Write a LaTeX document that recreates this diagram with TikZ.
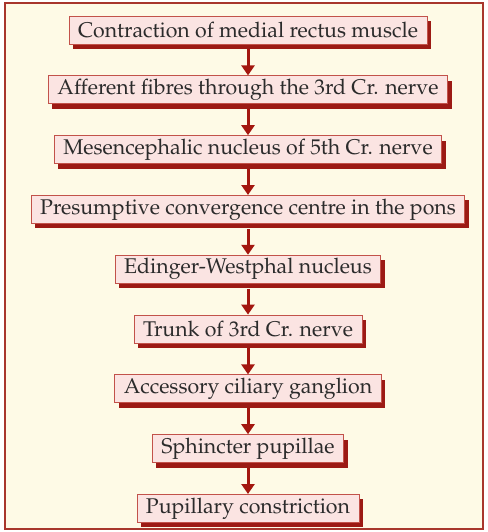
\documentclass[tikz,border=0pt]{standalone}
\usepackage[T1]{fontenc}
\usepackage{mathpazo}
\usepackage{xcolor}
\definecolor{paper}{HTML}{FEFAE6}
\definecolor{frameRed}{HTML}{A8362C}
\definecolor{boxPink}{HTML}{FBE4E2}
\definecolor{boxEdge}{HTML}{C2524A}
\definecolor{shadowRed}{HTML}{9C1A14}
\definecolor{arrowRed}{HTML}{A3170F}
\definecolor{textInk}{HTML}{2B2B2B}
\usetikzlibrary{positioning, arrows.meta, shadows}

\begin{document}
\begin{tikzpicture}[
  x=1pt, y=1pt,
  node distance = 31pt,
  stepbox/.style = {rectangle, draw=boxEdge, line width=0.8pt, fill=boxPink,
                    minimum height=28pt, inner xsep=9pt, inner ysep=0pt,
                    font=\fontsize{21.3}{24}\selectfont, text=textInk,
                    drop shadow={shadow xshift=4pt, shadow yshift=-5pt,
                                 fill=shadowRed, opacity=1}},
  arrow/.style = {-{Triangle[width=13pt, length=10pt]}, line width=3pt,
                  color=arrowRed},
]

% Frame
\useasboundingbox (0,0) rectangle (487,-532);
\draw[frameRed, line width=2pt, fill=paper] (5,-3) rectangle (483,-529);

% Steps of the pathway
\node[stepbox] (rectus) at (248,-30) {Contraction of medial rectus muscle};
\node[stepbox, below=of rectus]   (afferent) {Afferent fibres through the 3rd Cr. nerve};
\node[stepbox, below=of afferent] (mesenc)   {Mesencephalic nucleus of 5th Cr. nerve};
\node[stepbox, below=of mesenc]   (pons)     {Presumptive convergence centre in the pons};
\node[stepbox, below=of pons]     (ewn)      {Edinger-Westphal nucleus};
\node[stepbox, below=of ewn]      (trunk)    {Trunk of 3rd Cr. nerve};
\node[stepbox, below=of trunk]    (ciliary)  {Accessory ciliary ganglion};
\node[stepbox, below=of ciliary]  (sphinct)  {Sphincter pupillae};
\node[stepbox, below=of sphinct]  (constr)   {Pupillary constriction};

% Arrows
\foreach \a/\b in {rectus/afferent, afferent/mesenc, mesenc/pons, pons/ewn,
                   ewn/trunk, trunk/ciliary, ciliary/sphinct, sphinct/constr}
  \draw[arrow] ([yshift=-5pt]\a.south) -- (\b.north);

\end{tikzpicture}
\end{document}
